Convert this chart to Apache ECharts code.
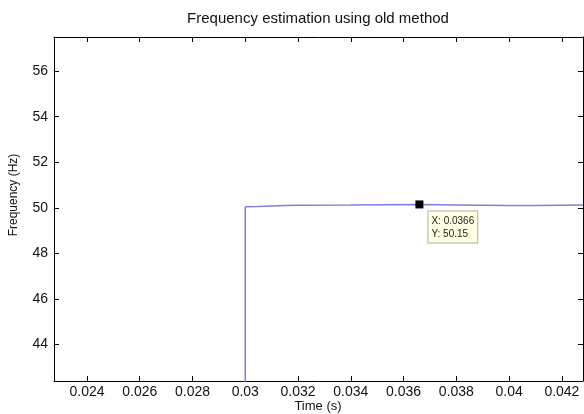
<!DOCTYPE html>
<html>
<head>
<meta charset="utf-8">
<script src="https://cdn.jsdelivr.net/npm/echarts@6/dist/echarts.min.js"></script>
<style>
  html, body { margin: 0; padding: 0; background: #fff; }
  #chart { width: 584px; height: 414px; }
</style>
</head>
<body>
<div id="chart"></div>
<script>
// Estimated frequency over time (s, Hz)
const timeS = [0.0220, 0.0300, 0.0300, 0.0305, 0.0310, 0.0315, 0.0320, 0.0340, 0.0366, 0.0380, 0.0400, 0.0410, 0.0428];
const freqHz = [0, 0, 50.05, 50.06, 50.08, 50.10, 50.12, 50.13, 50.15, 50.13, 50.10, 50.10, 50.13];
const xTicks = [0.024, 0.026, 0.028, 0.030, 0.032, 0.034, 0.036, 0.038, 0.040, 0.042];
const yTicks = [44, 46, 48, 50, 52, 54, 56];
const tipPoint = [0.0366, 50.15];

const font = 'Liberation Sans, Arial, sans-serif';
const fmtX = v => String(Number(v.toFixed(3)));

const chart = echarts.init(document.getElementById('chart'));

const axisCommon = {
  type: 'value',
  axisLine: { show: true, onZero: false, lineStyle: { color: '#000', width: 1 } },
  splitLine: { show: false }
};

chart.setOption({
  animation: false,
  title: {
    text: 'Frequency estimation using old method',
    left: 318, top: 11, textAlign: 'center', padding: 0,
    textStyle: { fontFamily: font, fontSize: 15, fontWeight: 'normal', color: '#111' }
  },
  grid: { left: 54, right: 1, top: 37, bottom: 33, containLabel: false, outerBoundsMode: 'none' },
  graphic: [{
    // y-axis title
    type: 'text',
    x: 14, y: 195,
    rotation: Math.PI / 2,
    style: {
      text: 'Frequency (Hz)',
      fontFamily: font, fontSize: 12, fill: '#111',
      align: 'center', verticalAlign: 'middle'
    }
  }, {
    // x-axis title
    type: 'text',
    x: 318, y: 406,
    style: {
      text: 'Time (s)',
      fontFamily: font, fontSize: 13, fill: '#111',
      align: 'center', verticalAlign: 'middle'
    }
  }],
  xAxis: [
    Object.assign({}, axisCommon, {
      min: 0.02275, max: 0.0428, position: 'bottom',
      axisTick: { show: true, inside: true, length: 5, customValues: xTicks, lineStyle: { color: '#000' } },
      axisLabel: { show: true, customValues: xTicks, formatter: fmtX, margin: 4,
        fontFamily: font, fontSize: 14, color: '#111' }
    }),
    Object.assign({}, axisCommon, {
      min: 0.02275, max: 0.0428, position: 'top',
      axisTick: { show: true, inside: true, length: 5, customValues: xTicks, lineStyle: { color: '#000' } },
      axisLabel: { show: false }
    })
  ],
  yAxis: [
    Object.assign({}, axisCommon, {
      min: 42.4, max: 57.5, position: 'left',
      axisTick: { show: true, inside: true, length: 5, customValues: yTicks, lineStyle: { color: '#000' } },
      axisLabel: { show: true, customValues: yTicks, margin: 6,
        fontFamily: font, fontSize: 14, color: '#111' }
    }),
    Object.assign({}, axisCommon, {
      min: 42.4, max: 57.5, position: 'right',
      axisTick: { show: true, inside: true, length: 5, customValues: yTicks, lineStyle: { color: '#000' } },
      axisLabel: { show: false }
    })
  ],
  series: [{
    type: 'line',
    data: timeS.map((t, i) => [t, freqHz[i]]),
    symbol: 'none',
    clip: true,
    lineStyle: { color: '#7f7fe0', width: 1.5 },
    markPoint: {
      symbol: 'rect',
      symbolSize: 8,
      itemStyle: { color: '#000' },
      data: [{ coord: tipPoint }],
      label: {
        show: true,
        position: [13, 11],
        formatter: () => 'X: ' + tipPoint[0] + '\nY: ' + tipPoint[1],
        fontFamily: font, fontSize: 10, color: '#222', lineHeight: 13,
        backgroundColor: '#ffffe1', borderColor: '#b0b0a0', borderWidth: 1,
        padding: [3, 3, 2, 3]
      }
    }
  }]
});
</script>
</body>
</html>
